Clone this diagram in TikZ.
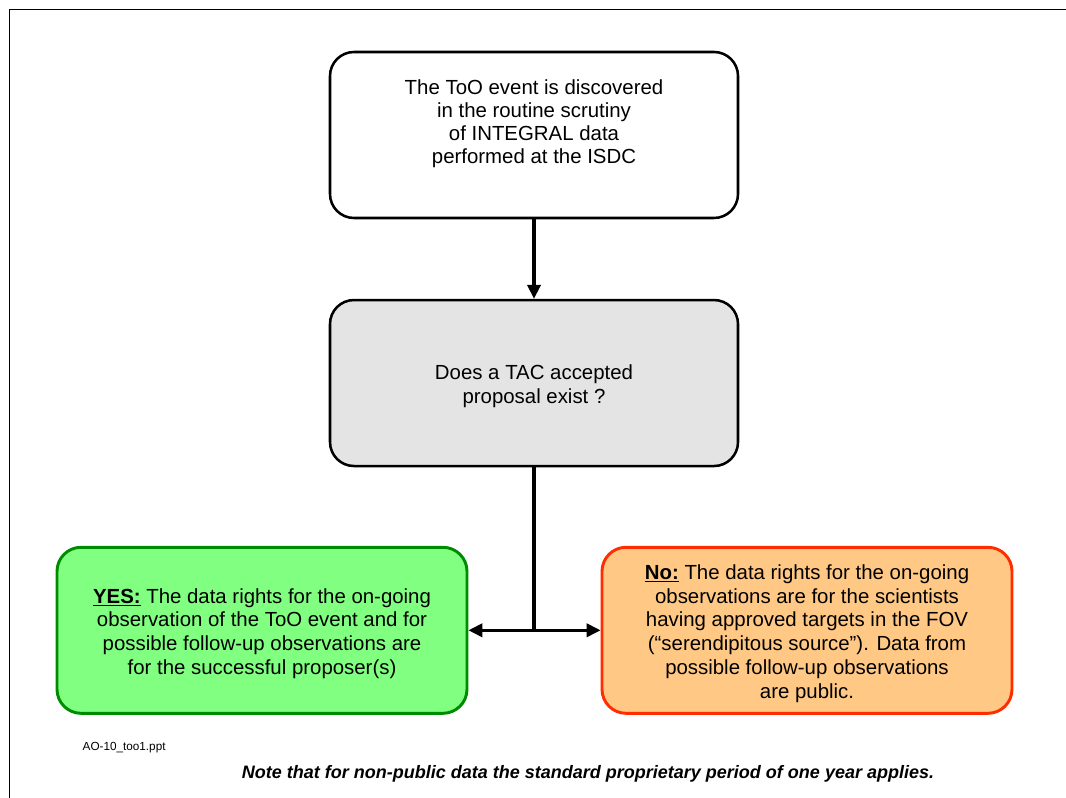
\documentclass[tikz,border=0pt]{standalone}
\usepackage{fontspec}
\setmainfont{Liberation Sans}
\usepackage{tikz}
\usetikzlibrary{arrows.meta,positioning}

\definecolor{yesfill}{RGB}{128,255,128}
\definecolor{yesline}{RGB}{0,140,0}
\definecolor{nofill}{RGB}{255,201,133}
\definecolor{noline}{RGB}{255,45,0}
\definecolor{askfill}{RGB}{228,228,228}

\newcommand{\lowered}{\rule{0pt}{16pt}}

\begin{document}
\begin{tikzpicture}[x=0.75pt,y=-0.75pt]

  % Styles
  \tikzstyle{box}=[draw,line width=1.9pt,rounded corners=18pt,minimum width=306pt,minimum height=124.5pt,align=center,font=\fontsize{15.3}{17.8}\selectfont]
  \tikzstyle{plain}=[box,fill=white,font=\fontsize{15.3}{17.3}\selectfont]
  \tikzstyle{question}=[box,fill=askfill]
  \tikzstyle{yesbox}=[box,fill=yesfill,draw=yesline,line width=2.2pt,minimum width=307.5pt]
  \tikzstyle{nobox}=[box,fill=nofill,draw=noline,line width=2.2pt,minimum width=307.5pt]
  \tikzstyle{to}=[-{Triangle[length=10.5pt,width=10pt]},line width=2.3pt]

  % \block{<style>}{<id>}{<label>}
  \newcommand{\block}[3]{node[#1] (#2) {#3}}

  % ===========================================================================

  \useasboundingbox (0,0) rectangle (1066,798);
  \draw[line width=1.1pt] (9.5,798) -- (9.5,9.5) -- (1066,9.5);

  % Draw blocks
  \path (534,135)                \block{plain}{find}{The ToO event is discovered\\in the routine scrutiny\\of INTEGRAL data\\performed at the ISDC\\[2.5pt]\mbox{}};
  \path (find.south) +(0,79.5)   \block{question,anchor=north}{decide}{\lowered Does a TAC accepted\\proposal exist ?};
  \path (decide.south) +(-272,163) \block{yesbox}{yes}{\lowered\underline{\textbf{YES:}} The data rights for the on-going\\observation of the ToO event and for\\possible follow-up observations are\\for the successful proposer(s)};
  \path (decide.south) +(273,163)  \block{nobox}{no}{\lowered\underline{\textbf{No:}} The data rights for the on-going\\observations are for the scientists\\having approved targets in the FOV\\(“serendipitous source”). Data from\\possible follow-up observations\\are public.};
  \coordinate (split) at (decide.south |- yes.east);

  % Draw arrows
  \draw[to] (find.south) -- (decide.north);
  \draw[line width=2.3pt] (decide.south) -- (split);
  \draw[to] (split) -- (yes.east);
  \draw[to] (split) -- (no.west);

  % Footer texts
  \node[anchor=west,font=\fontsize{8.8}{10}\selectfont] (file) at (78,748) {AO-10\_too1.ppt};
  \node[font=\bfseries\itshape\fontsize{13.5}{15}\selectfont] (note) at (588,774) {Note that for non-public data the standard proprietary period of one year applies.};

\end{tikzpicture}
\end{document}
